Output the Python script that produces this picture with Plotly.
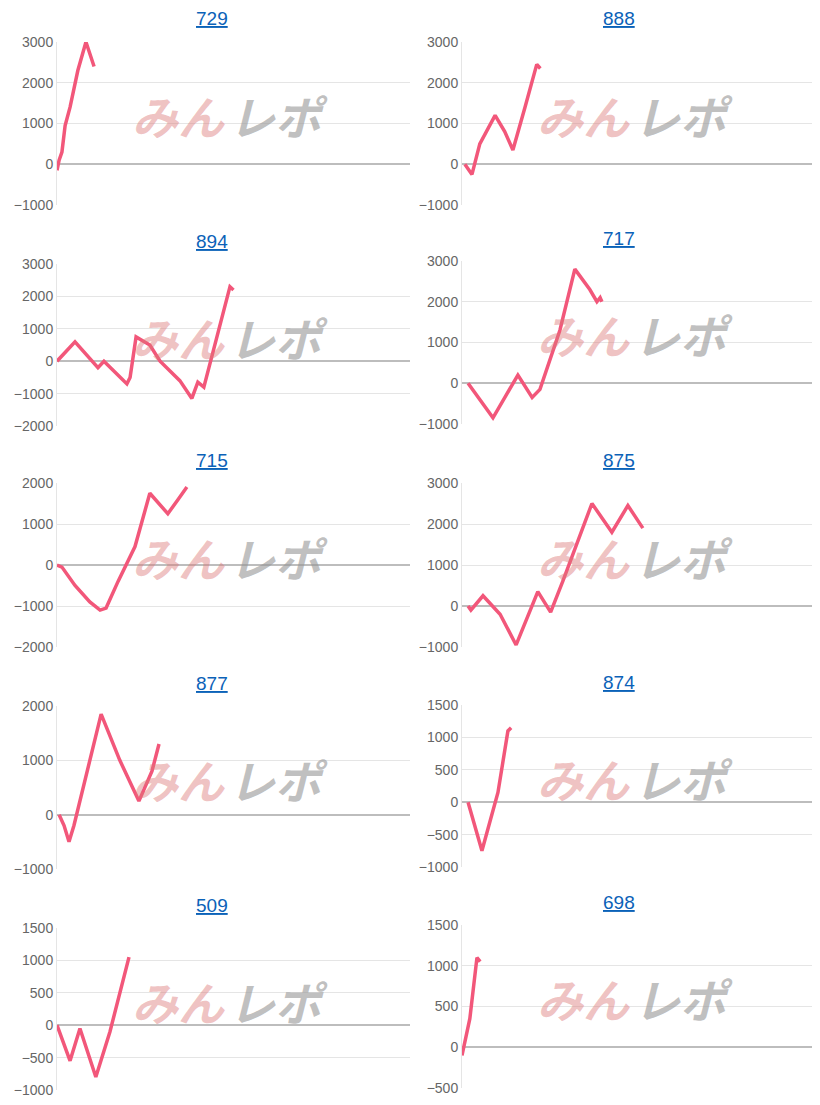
import plotly.graph_objects as go

W, H = 820, 1105
OFF = 8  # page body margin

titles = ["729", "888", "894", "717", "715", "875", "877", "874", "509", "698"]

x729 = [0, 0.6, 1.4, 2.3, 3.7, 5.9, 8.2, 9.3, 10.5]
y729 = [-150, 100, 300, 950, 1400, 2300, 3000, 2700, 2400]
x888 = [0.8, 2.8, 5, 9.3, 12, 14.3, 17.7, 21, 22]
y888 = [0, -250, 500, 1200, 800, 350, 1400, 2450, 2350]
x894 = [0, 5.1, 11.6, 13.3, 18.4, 19.8, 20.7, 22.4, 26.3, 29.2, 34.8, 38.2, 39.9, 41.6, 49, 50]
y894 = [0, 600, -200, 0, -550, -700, -500, 750, 500, 0, -600, -1150, -650, -800, 2300, 2200]
x717 = [1.7, 8.7, 12, 15.7, 19.7, 21.9, 27.5, 31.7, 35.9, 37.9, 38.8, 39.3]
y717 = [0, -850, -350, 200, -350, -150, 1300, 2800, 2300, 2000, 2100, 2000]
x715 = [0, 1.4, 5.1, 9.3, 12.2, 13.9, 17.3, 22.1, 26.3, 29.2, 31.4, 34.3, 36.8]
y715 = [0, -50, -500, -900, -1100, -1050, -400, 450, 1750, 1450, 1250, 1600, 1900]
x875 = [1.7, 2.5, 5.9, 10.7, 15.2, 21.3, 24.9, 28.3, 36.5, 42.1, 46.6, 50.8]
y875 = [0, -100, 250, -200, -950, 350, -150, 600, 2500, 1800, 2450, 1900]
x877 = [0.6, 2, 3.4, 4.8, 12.5, 17.8, 23.2, 26.9, 28.9]
y877 = [0, -200, -500, -200, 1850, 1000, 250, 800, 1300]
x874 = [1.7, 5.6, 10.1, 12.9, 13.8]
y874 = [0, -750, 150, 1100, 1150]
x509 = [0, 3.7, 6.5, 11, 15, 20.4]
y509 = [0, -550, -50, -800, -100, 1050]
x698 = [0, 2.2, 4.2, 5.1]
y698 = [-100, 350, 1100, 1050]

xs = [x729, x888, x894, x717, x715, x875, x877, x874, x509, x698]
ys = [y729, y888, y894, y717, y715, y875, y877, y874, y509, y698]
yranges = [(-1000, 3000, 1000), (-1000, 3000, 1000), (-2000, 3000, 1000), (-1000, 3000, 1000),
           (-2000, 2000, 1000), (-1000, 3000, 1000), (-1000, 2000, 1000), (-1000, 1500, 500),
           (-1000, 1500, 500), (-500, 1500, 500)]

# plot area boxes in pixels: left, right, top, bottom
boxes = [(57, 410, 42, 205), (462, 818, 42, 205),
         (57, 410, 264, 426), (462, 818, 261, 424),
         (57, 410, 483, 647), (462, 818, 483, 647),
         (57, 410, 706, 869), (462, 818, 705, 867),
         (57, 410, 928, 1090), (462, 818, 925, 1088)]

fig = go.Figure()
layout = {}
for i in range(10):
    n = "" if i == 0 else str(i + 1)
    l, r, t, b = [v - OFF for v in boxes[i]]
    lo, hi, dt = yranges[i]
    fig.add_trace(go.Scatter(x=xs[i], y=ys[i], mode="lines", xaxis="x" + n, yaxis="y" + n,
                             line=dict(color="#f2577a", width=3.5), showlegend=False,
                             hoverinfo="skip"))
    layout["xaxis" + n] = dict(domain=[l / W, r / W], range=[0, 100], visible=False,
                               anchor="y" + n, automargin=False)
    layout["yaxis" + n] = dict(domain=[1 - b / H, 1 - t / H], range=[lo, hi], dtick=dt,
                               anchor="x" + n, gridcolor="#e5e5e5", zeroline=True,
                               zerolinecolor="#bdbdbd", zerolinewidth=1.5, showline=True,
                               linecolor="#e5e5e5", ticks="", automargin=False,
                               tickfont=dict(size=14, color="#666", family="Arial"))
    cx = (l + (r - l) * 0.44) / W
    fig.add_annotation(text="<u>" + titles[i] + "</u>", xref="paper", yref="paper",
                       x=cx, y=1 - (t - 23) / H, showarrow=False,
                       xanchor="center", yanchor="middle",
                       font=dict(size=19, color="#0b62b8", family="Arial"))
    my = 1 - (t + (b - t) * 0.45) / H
    fig.add_annotation(text="<b><i>みん</i></b>", xref="paper", yref="paper",
                       x=(l + 121) / W, y=my, showarrow=False,
                       xanchor="center", yanchor="middle",
                       font=dict(size=46, color="rgba(220,120,120,0.45)", family="Noto Sans CJK JP"))
    fig.add_annotation(text="<b><i>レポ</i></b>", xref="paper", yref="paper",
                       x=(l + 221) / W, y=my, showarrow=False,
                       xanchor="center", yanchor="middle",
                       font=dict(size=46, color="rgba(150,150,150,0.6)", family="Noto Sans CJK JP"))

fig.update_layout(width=W, height=H, margin=dict(l=0, r=0, t=0, b=0),
                  plot_bgcolor="white", paper_bgcolor="white", **layout)
fig.write_html("out.html")
